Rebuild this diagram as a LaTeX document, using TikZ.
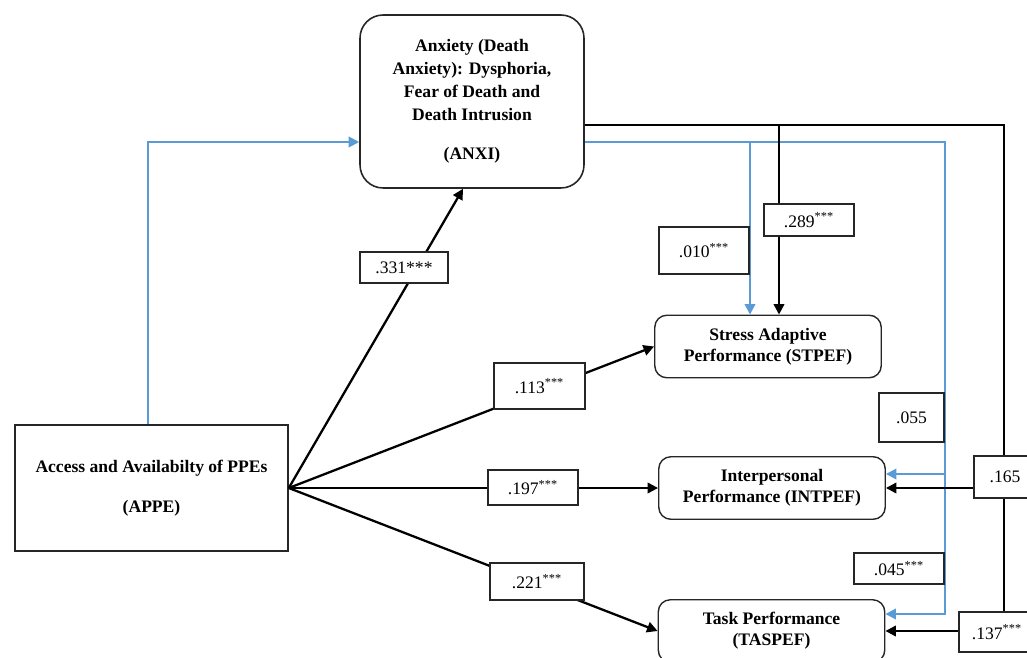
\documentclass[tikz,border=0pt]{standalone}
\usepackage{fontspec}
\setmainfont{Liberation Serif}
\usetikzlibrary{arrows.meta}

\definecolor{ppeblue}{HTML}{5B9BD5}

\tikzset{
  exog/.style={draw=black!85, line width=0.9pt, align=center, inner sep=0pt,
    minimum width=5.46cm, minimum height=2.52cm, font=\bfseries},
  anx/.style={draw=black!85, line width=0.9pt, rounded corners=0.46cm, align=center,
    inner sep=0pt, minimum width=4.48cm, minimum height=3.46cm,
    font=\bfseries\fontsize{10}{13}\selectfont},
  perf/.style={draw=black!85, line width=0.8pt, rounded corners=0.24cm, align=center,
    inner sep=0pt, minimum width=4.53cm, minimum height=1.25cm, font=\bfseries},
  coef/.style 2 args={draw=black!85, fill=white, line width=0.6pt, inner sep=0pt,
    minimum width=#1, minimum height=#2},
  kpath/.style={draw=black, line width=1.3pt, -{Triangle[length=6pt,width=6pt]}},
  bpath/.style={draw=ppeblue, line width=1.2pt, -{Triangle[length=6pt,width=6pt]}}
}

\begin{document}
\begin{tikzpicture}[x=0.02cm, y=-0.02cm]
\useasboundingbox (0,0) rectangle (1027,658);

% constructs
\node[exog] (APPE) at (151.5,488) {Access and Availabilty of PPEs\\[10.7pt](APPE)};
\node[anx] (ANXI) at (472,101.5) {Anxiety (Death\\Anxiety): Dysphoria,\\Fear of Death and\\Death Intrusion\\[9.7pt](ANXI)};
\node[perf] (STPEF) at (768,346.5) {Stress Adaptive\\Performance (STPEF)};
\node[perf] (INTPEF) at (772,488) {Interpersonal\\Performance (INTPEF)};
\node[perf] (TASPEF) at (771.5,631) {Task Performance\\(TASPEF)};

% bend points
\coordinate (kt) at (1004,125);
\coordinate (ks) at (779,125);
\coordinate (bt) at (945,142);
\coordinate (bs) at (750,142);
\coordinate (bl) at (148,142);
\coordinate (bi) at (945,474);
\coordinate (ba) at (945,614);
\coordinate (ai) at (463,188);

% paths from APPE
\draw[bpath] (APPE.north -| bl) |- (ANXI.west |- bl);
\draw[kpath] (APPE.east) -- (ANXI.south -| ai);
\draw[kpath] (APPE.east) -- (STPEF.west);
\draw[kpath] (APPE.east) -- (INTPEF.west);
\draw[kpath] (APPE.east) -- (TASPEF.west);

% paths from ANXI
\draw[bpath] (ANXI.east |- bt) -- (bt) -- (ba) -- (ba -| TASPEF.east);
\draw[bpath] (bi) -- (bi -| INTPEF.east);
\draw[bpath] (bs) -- (bs |- STPEF.north);
\draw[kpath] (ANXI.east |- kt) -- (kt) -- (kt |- TASPEF.east) -- (TASPEF.east);
\draw[kpath] (kt |- INTPEF.east) -- (INTPEF.east);
\draw[kpath] (ks) -- (ks |- STPEF.north);

% coefficients
\node[coef={1.76cm}{0.62cm}] (c331) at (404,267.5) {.331***};
\node[coef={1.82cm}{0.92cm}] (c113) at (539.5,386) {.113\textsuperscript{***}};
\node[coef={1.80cm}{0.70cm}] (c197) at (533,487.5) {.197\textsuperscript{***}};
\node[coef={1.88cm}{0.74cm}] (c221) at (537,581.5) {.221\textsuperscript{***}};
\node[coef={1.80cm}{0.64cm}] (c289) at (809,220) {.289\textsuperscript{***}};
\node[coef={1.80cm}{0.94cm}] (c010) at (704,250.5) {.010\textsuperscript{***}};
\node[coef={1.30cm}{0.98cm}] (c055) at (911.5,417.5) {.055};
\node[coef={1.80cm}{0.62cm}] (c045) at (899,568.5) {.045\textsuperscript{***}};
\node[coef={1.24cm}{0.84cm}] (c165) at (1005,477) {.165};
\node[coef={1.52cm}{0.80cm}] (c137) at (997,632) {.137\textsuperscript{***}};
\end{tikzpicture}
\end{document}
